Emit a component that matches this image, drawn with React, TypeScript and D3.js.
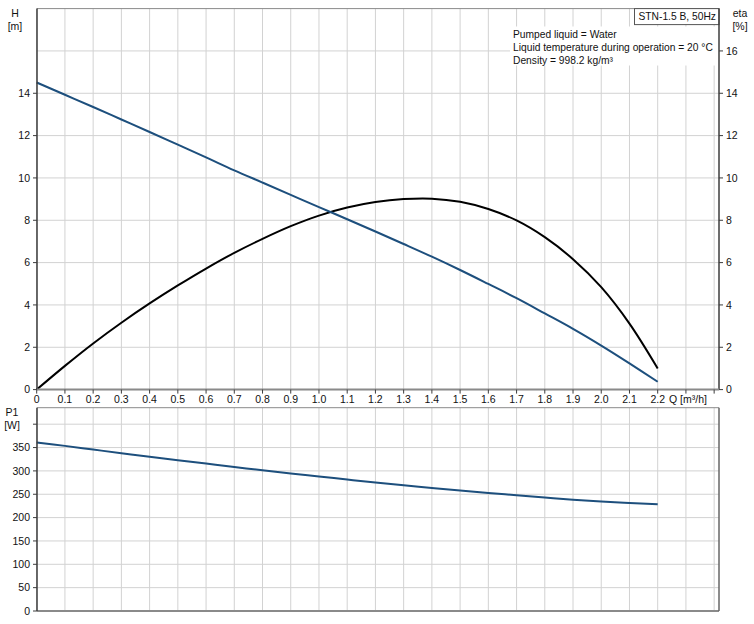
import React from "react";
import * as d3 from "d3";

// Flow rate Q [m³/h]
const flow = [0, 0.1, 0.2, 0.3, 0.4, 0.5, 0.6, 0.7, 0.8, 0.9, 1.0, 1.1, 1.2, 1.3, 1.4, 1.5, 1.6, 1.7, 1.8, 1.9, 2.0, 2.1, 2.2];
// Head H [m]
const head = [14.51, 13.93, 13.35, 12.76, 12.17, 11.57, 10.97, 10.36, 9.78, 9.2, 8.62, 8.05, 7.47, 6.88, 6.28, 5.65, 4.99, 4.32, 3.6, 2.87, 2.08, 1.24, 0.37];
// Efficiency eta [%]
const eta = [0, 1.12, 2.18, 3.16, 4.07, 4.92, 5.72, 6.46, 7.12, 7.72, 8.22, 8.6, 8.86, 9.0, 9.02, 8.87, 8.53, 7.99, 7.2, 6.16, 4.84, 3.12, 1.0];
// Power input P1 [W]
const power = [361, 353.6, 345.7, 337.9, 330.2, 322.9, 315.7, 308.5, 301.2, 294.4, 288, 281.5, 275.2, 269.3, 263.6, 258, 252.9, 247.9, 243, 238.3, 234.3, 231.3, 228.6];

const xTickLabels = ["0", "0.1", "0.2", "0.3", "0.4", "0.5", "0.6", "0.7", "0.8", "0.9", "1.0", "1.1", "1.2", "1.3", "1.4", "1.5", "1.6", "1.7", "1.8", "1.9", "2.0", "2.1", "2.2"];
const leftTicks = [0, 2, 4, 6, 8, 10, 12, 14];
const rightTicks = [0, 2, 4, 6, 8, 10, 12, 14, 16];
const powerTicks = [0, 50, 100, 150, 200, 250, 300, 350, 400];
const powerTickLabels = ["0", "50", "100", "150", "200", "250", "300", "350", ""];

const infoLines = [
  "Pumped liquid = Water",
  "Liquid temperature during operation = 20 °C",
  "Density = 998.2 kg/m³",
];
const title = "STN-1.5 B, 50Hz";

const FONT = "'Liberation Sans', Arial, sans-serif";
const GRID = "#d2d2d2";
const AXIS = "#3c3c3c";
const FRAME = "#8a8a8a";
const BLUE = "#1d4f7d";

export default function App() {
  const left = 37;
  const right = 719;
  const x = d3.scaleLinear().domain([0, 2.2]).range([36.7, 657.7]);
  const gridQ = d3.range(0, 25).map((i) => i / 10);
  const axisTicksQ = d3.range(0, 25).map((i) => i / 10);

  // Upper chart: head and efficiency
  const yTop = d3.scaleLinear().domain([0, 18]).range([389.6, 8.6]);
  const topY0 = yTop(0);
  const topY1 = yTop(18);
  const hGrid = d3.range(0, 18, 2);

  // Lower chart: power input
  const yP = d3.scaleLinear().domain([0, 400]).range([611, 424.2]);
  const botY0 = yP(0);
  const botY1 = 407.7;

  const curve = d3.curveCatmullRom.alpha(0.5);
  const lineTop = d3
    .line<number>()
    .x((_, i) => x(flow[i]))
    .y((d) => yTop(d))
    .curve(curve);
  const lineP = d3
    .line<number>()
    .x((_, i) => x(flow[i]))
    .y((d) => yP(d))
    .curve(curve);

  const fs = 10.5;
  const fsInfo = 10.25;

  return (
    <svg
      width={754}
      height={624}
      style={{ position: "absolute", left: 0, top: 0, background: "#fff" }}
      fontFamily={FONT}
    >
      <rect x={0} y={0} width={754} height={624} fill="#fff" />

      {/* ---------- upper chart ---------- */}
      {gridQ.map((q, i) => (
        <line key={"vg" + i} x1={x(q)} x2={x(q)} y1={topY1} y2={topY0} stroke={GRID} strokeWidth={1} />
      ))}
      {hGrid.map((v, i) => (
        <line key={"hg" + i} x1={left} x2={right} y1={yTop(v)} y2={yTop(v)} stroke={GRID} strokeWidth={1} />
      ))}
      <line x1={left} x2={right} y1={topY1} y2={topY1} stroke={FRAME} strokeWidth={1} />

      {/* info block with white backing */}
      <rect x={510} y={26.5} width={right - 510} height={39} fill="#fff" />
      {infoLines.map((t, i) => (
        <text key={"info" + i} x={513} y={37.5 + i * 13} fontSize={fsInfo} fill="#111">
          {t}
        </text>
      ))}
      <rect x={634.5} y={topY1} width={right - 634.5} height={16} fill="#fff" stroke="#555" strokeWidth={1} />
      <text x={638.5} y={topY1 + 11.8} fontSize={fsInfo} fill="#111">
        {title}
      </text>

      {/* curves */}
      <path d={lineTop(eta) || ""} fill="none" stroke="#000" strokeWidth={2} />
      <path d={lineTop(head) || ""} fill="none" stroke={BLUE} strokeWidth={2} />

      {/* axes */}
      <line x1={left} x2={left} y1={topY1} y2={topY0} stroke={AXIS} strokeWidth={1.5} />
      <line x1={right} x2={right} y1={topY1} y2={topY0} stroke={AXIS} strokeWidth={1.5} />
      <line x1={left} x2={right} y1={topY0} y2={topY0} stroke={FRAME} strokeWidth={2} />
      {axisTicksQ.map((q, i) => (
        <line key={"xt" + i} x1={x(q)} x2={x(q)} y1={topY0} y2={topY0 + 4} stroke={AXIS} strokeWidth={1} />
      ))}
      {xTickLabels.map((t, i) => (
        <text key={"xl" + i} x={x(flow[i])} y={403} fontSize={fs} textAnchor="middle" fill="#111">
          {t}
        </text>
      ))}
      <text x={688} y={403} fontSize={fs} textAnchor="middle" fill="#111">
        Q [m³/h]
      </text>

      {leftTicks.map((v, i) => (
        <g key={"lt" + i}>
          <line x1={left - 4} x2={left} y1={yTop(v)} y2={yTop(v)} stroke={AXIS} strokeWidth={1} />
          <text x={30} y={yTop(v) + 3.8} fontSize={fs} textAnchor="end" fill="#111">
            {v}
          </text>
        </g>
      ))}
      {rightTicks.map((v, i) => (
        <g key={"rt" + i}>
          <line x1={right} x2={right + 4} y1={yTop(v)} y2={yTop(v)} stroke={AXIS} strokeWidth={1} />
          <text x={726} y={yTop(v) + 3.8} fontSize={fs} textAnchor="start" fill="#111">
            {v}
          </text>
        </g>
      ))}
      <text x={15} y={16.5} fontSize={fs} textAnchor="middle" fill="#111">H</text>
      <text x={15} y={29.5} fontSize={fs} textAnchor="middle" fill="#111">[m]</text>
      <text x={740} y={16.5} fontSize={fs} textAnchor="middle" fill="#111">eta</text>
      <text x={740} y={29.5} fontSize={fs} textAnchor="middle" fill="#111">[%]</text>

      {/* ---------- lower chart ---------- */}
      {gridQ.map((q, i) => (
        <line key={"bvg" + i} x1={x(q)} x2={x(q)} y1={botY1} y2={botY0} stroke={GRID} strokeWidth={1} />
      ))}
      {powerTicks.map((v, i) => (
        <line key={"bhg" + i} x1={left} x2={right} y1={yP(v)} y2={yP(v)} stroke={GRID} strokeWidth={1} />
      ))}
      <line x1={left} x2={right} y1={botY1} y2={botY1} stroke={FRAME} strokeWidth={1} />
      <line x1={left} x2={right} y1={botY0} y2={botY0} stroke={FRAME} strokeWidth={2} />
      <line x1={right} x2={right} y1={botY1} y2={botY0} stroke="#666" strokeWidth={1.5} />

      <path d={lineP(power) || ""} fill="none" stroke={BLUE} strokeWidth={2} />

      <line x1={left} x2={left} y1={botY1} y2={botY0} stroke={AXIS} strokeWidth={1.5} />
      {powerTicks.map((v, i) => (
        <g key={"pt" + i}>
          <line x1={left - 4} x2={left} y1={yP(v)} y2={yP(v)} stroke={AXIS} strokeWidth={1} />
          <text x={30} y={yP(v) + 3.8} fontSize={fs} textAnchor="end" fill="#111">
            {powerTickLabels[i]}
          </text>
        </g>
      ))}
      <text x={12} y={415.5} fontSize={fs} textAnchor="middle" fill="#111">P1</text>
      <text x={12} y={428.5} fontSize={fs} textAnchor="middle" fill="#111">[W]</text>
    </svg>
  );
}
